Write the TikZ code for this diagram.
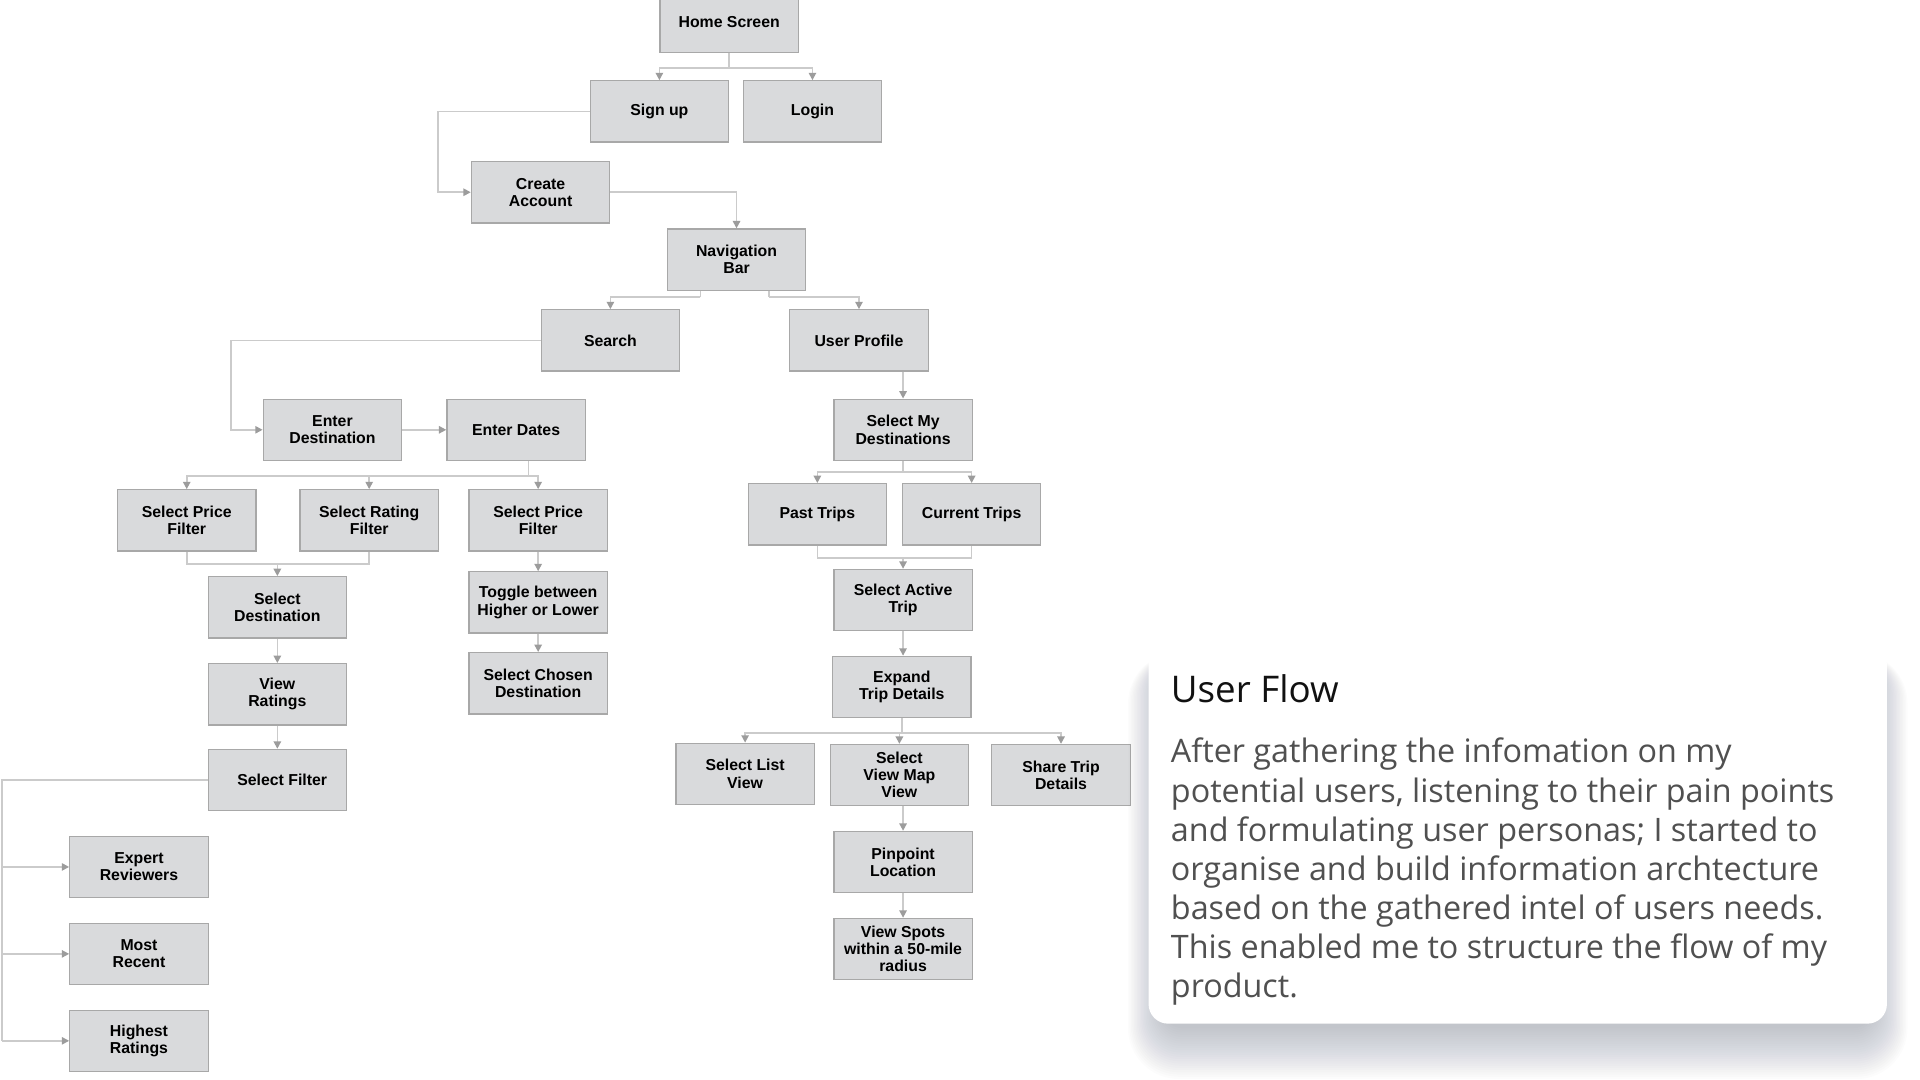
\documentclass[tikz,border=0pt]{standalone}
\usepackage{fontspec}
\setmainfont{Liberation Sans}
\newfontfamily\cardfont{Open Sans}
\usetikzlibrary{arrows.meta,calc}
\definecolor{boxfill}{HTML}{D9DADC}
\definecolor{boxline}{HTML}{A8A8A8}
\definecolor{linecol}{HTML}{CBCBCB}
\definecolor{tipcol}{HTML}{9C9C9C}
\definecolor{bodytext}{HTML}{505050}
\definecolor{titletext}{HTML}{111111}
\definecolor{shadowcol}{HTML}{30384A}
\begin{document}
\begin{tikzpicture}[x=0.75pt,y=-0.75pt,
  flowbox/.style={draw=boxline, fill=boxfill, line width=0.8pt, minimum width=84.75pt, minimum height=37.5pt, inner sep=1pt, align=center, font=\fontsize{9.7pt}{10.5pt}\selectfont\bfseries, text=black},
  wire/.style={draw=linecol, line width=1pt},
  flow/.style={wire, -{Triangle[length=4.5pt,width=4.5pt,color=tipcol]}},
  card/.style={fill=white, rounded corners=12pt, minimum width=452.25pt, minimum height=231.75pt},
  shadowlayer/.style={fill=shadowcol, opacity=0.011},
]
\fill[white] (0,0) rectangle (1568,882);
\useasboundingbox (0,0) rectangle (1568,882);

% boxes
\node[flowbox] (home) at (595.5,18) {Home Screen};
\node[flowbox] (signup) at (538.5,91) {Sign up};
\node[flowbox] (login) at (663.5,91) {Login};
\node[flowbox] (create) at (441.5,157) {Create\\Account};
\node[flowbox] (nav) at (601.5,212) {Navigation\\Bar};
\node[flowbox] (search) at (498.5,278) {Search};
\node[flowbox] (profile) at (701.5,278) {User Profile};
\node[flowbox] (enterdest) at (271.5,351) {Enter\\Destination};
\node[flowbox] (enterdates) at (421.5,351) {Enter Dates};
\node[flowbox] (selmydest) at (737.5,351) {Select My\\Destinations};
\node[flowbox] (price1) at (152.5,425) {Select Price\\Filter};
\node[flowbox] (rating) at (301.5,425) {Select Rating\\Filter};
\node[flowbox] (price2) at (439.5,425) {Select Price\\Filter};
\node[flowbox] (past) at (667.5,420) {Past Trips};
\node[flowbox] (current) at (793.5,420) {Current Trips};
\node[flowbox] (seldest) at (226.5,496) {Select\\Destination};
\node[flowbox] (toggle) at (439.5,492) {Toggle between\\Higher or Lower};
\node[flowbox] (active) at (737.5,490) {Select Active\\Trip};
\node[flowbox] (viewratings) at (226.5,567) {View\\Ratings};
\node[flowbox] (chosen) at (439.5,558) {Select Chosen\\Destination};
\node[flowbox] (expand) at (736.5,561) {Expand\\Trip Details};
\node[flowbox] (listview) at (608.5,632) {Select List\\View};
\node[flowbox] (mapview) at (734.5,633) {Select\\View Map\\View};
\node[flowbox] (share) at (866.5,633) {Share Trip\\Details};
\node[flowbox] (selfilter) at (226.5,637) {\hspace*{6pt}Select Filter};
\node[flowbox] (pinpoint) at (737.5,704) {Pinpoint\\Location};
\node[flowbox] (expert) at (113.5,708) {Expert\\Reviewers};
\node[flowbox] (spots) at (737.5,775) {View Spots\\within a 50-mile\\radius};
\node[flowbox] (recent) at (113.5,779) {Most\\Recent};
\node[flowbox] (highest) at (113.5,850) {Highest\\Ratings};

% connectors
\draw[wire] (home.south) -- ++(0,12) coordinate (h1);
\draw[flow] (h1) -| (signup.north);
\draw[flow] (h1) -| (login.north);

\draw[flow] (signup.west) -- ++(-124,0) |- (create.west);
\draw[flow] (create.east) -| (nav.north);

\draw[wire] ($(nav.south)+(-29.5,0)$) -- ++(0,5) coordinate (n1);
\draw[flow] (n1) -| (search.north);
\draw[wire] ($(nav.south)+(26.5,0)$) -- ++(0,5) coordinate (n2);
\draw[flow] (n2) -| (profile.north);

\draw[flow] (selmydest.north |- profile.south) -- (selmydest.north);

\draw[flow] (search.west) -- ++(-253,0) |- (enterdest.west);
\draw[flow] (enterdest.east) -- (enterdates.west);

\draw[wire] ($(enterdates.south)+(10,0)$) -- ++(0,12) coordinate (d1);
\draw[flow] (d1) -| (price1.north);
\draw[flow] (d1) -| (rating.north);
\draw[flow] (d1) -| (price2.north);

\draw[wire] (price1.south) -- ++(0,10) coordinate (p1) -| (rating.south);
\draw[flow] (p1 -| seldest.north) -- (seldest.north);
\draw[flow] (seldest) -- (viewratings);
\draw[flow] (viewratings) -- (selfilter);

\coordinate (sf1) at (1.5,637);
\draw[wire] (selfilter.west) -- (sf1) -- (sf1 |- highest.west);
\draw[flow] (sf1 |- expert.west) -- (expert.west);
\draw[flow] (sf1 |- recent.west) -- (recent.west);
\draw[flow] (sf1 |- highest.west) -- (highest.west);

\draw[flow] (price2) -- (toggle);
\draw[flow] (toggle) -- (chosen);

\draw[wire] (selmydest.south) -- ++(0,9) coordinate (m1);
\draw[flow] (m1) -| (past.north);
\draw[flow] (m1) -| (current.north);
\draw[wire] (past.south) -- ++(0,10) coordinate (t1) -| (current.south);
\draw[flow] (t1 -| active.north) -- (active.north);
\draw[flow] (active.south) -- (active.south |- expand.north);

\draw[wire] (expand.south) -- ++(0,12) coordinate (e1);
\draw[flow] (e1) -| (listview.north);
\draw[flow] (e1) -| (mapview.north);
\draw[flow] (e1) -| (share.north);

\draw[flow] (pinpoint.north |- mapview.south) -- (pinpoint.north);
\draw[flow] (pinpoint.south) -- (spots.north);

% soft shadow of the text card
\foreach \k in {1,...,24} {
  \fill[shadowlayer, rounded corners={12pt+0.8pt*\k}]
    (950-1.2*\k, 540-0.3*\k) rectangle (1529+1.2*\k, 838+1.8*\k);
}
% text card
\node[card] (card) at (1239.5,681.5) {};
\node[anchor=base west, inner sep=0pt, text=titletext, font=\cardfont\fontsize{22.5pt}{27pt}\selectfont] (title) at (956,574) {User Flow};
\node[anchor=base west, inner sep=0pt, align=left, text=bodytext, font=\cardfont\fontsize{19.8pt}{24pt}\selectfont] (body) at (956,815) {After gathering the infomation on my\\potential users, listening to their pain points\\and formulating user personas; I started to\\organise and build information archtecture\\based on the gathered intel of users needs.\\This enabled me to structure the flow of my\\product.};
\end{tikzpicture}
\end{document}
